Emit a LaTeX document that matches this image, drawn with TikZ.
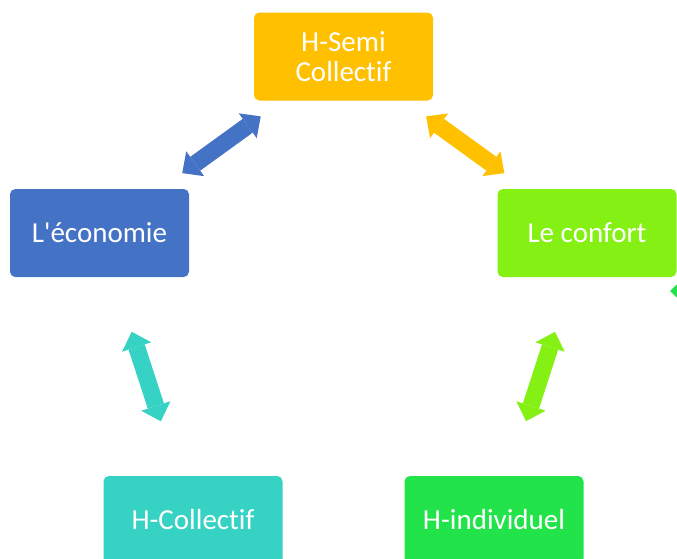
\documentclass[tikz,border=0pt]{standalone}
\usepackage{fontspec}
\setmainfont{Carlito}[Ligatures=NoCommon]
\usepackage{xcolor}
\usetikzlibrary{arrows.meta}

\definecolor{semiorange}{RGB}{255,192,0}
\definecolor{ecoblue}{RGB}{68,114,196}
\definecolor{confortlime}{RGB}{133,240,19}
\definecolor{colltur}{RGB}{54,211,197}
\definecolor{indivgreen}{RGB}{35,227,75}

\begin{document}
\begin{tikzpicture}[x=0.75pt, y=-0.75pt,
		box/.style={rounded corners=4pt, minimum width=134.25pt, minimum height=66pt, inner sep=0pt,
			text=white, align=center, font=\fontsize{21.75}{22.5}\selectfont},
		link/.style={line width=12.75pt,
			{Triangle[length=12pt, width=23pt, line width=0pt]}-{Triangle[length=12pt, width=23pt, line width=0pt]}}]
		% Frame
		\useasboundingbox (0,0) rectangle (677,558);
		\clip (0,0) rectangle (677,558);

		% Boxes
		\node[box, fill=semiorange] (semi) at (343.5,56.5) {H-Semi\\Collectif};
		\node[box, fill=ecoblue] (eco) at (99.5,233) {L\textquotesingle économie};
		\node[box, fill=confortlime] (confort) at (587,233) {Le confort};
		\node[box, fill=colltur] (coll) at (193,520) {H-Collectif};
		\node[box, fill=indivgreen] (indiv) at (494,520) {H-individuel};

		% Double arrows
		\draw[link, ecoblue, shorten <=20pt, shorten >=20pt] (eco) -- (semi);
		\draw[link, semiorange, shorten <=20pt, shorten >=20pt] (semi) -- (confort);
		\draw[link, colltur, shorten <=43pt, shorten >=43pt] (eco) -- (coll);
		\draw[link, confortlime, shorten <=43pt, shorten >=43pt] (confort) -- (indiv);

		% Arrow leaving the frame
		\coordinate (outtip) at (670,291);
		\coordinate (outend) at (790,291);
		\draw[link, indivgreen] (outtip) -- (outend);
	\end{tikzpicture}
\end{document}
